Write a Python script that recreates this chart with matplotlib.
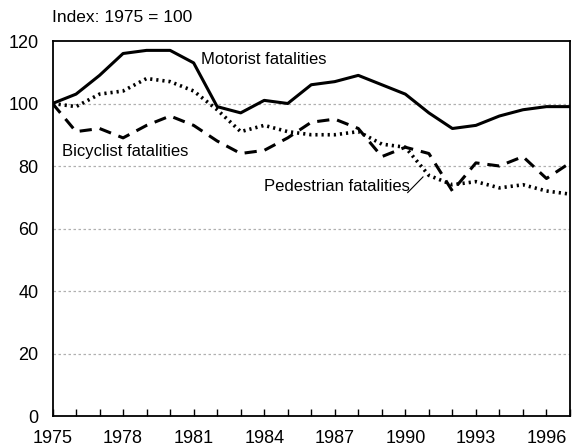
import numpy as np
import matplotlib.pyplot as plt
from matplotlib import font_manager

# font: condensed sans if available
names = {f.name for f in font_manager.fontManager.ttflist}
fam = 'Liberation Sans Narrow' if 'Liberation Sans Narrow' in names else 'Liberation Sans'
plt.rcParams['font.family'] = [fam, 'DejaVu Sans']

years = np.arange(1975, 1998)
motorist = [100, 103, 109, 116, 117, 117, 113, 99, 97, 101, 100, 106,
            107, 109, 106, 103, 97, 92, 93, 96, 98, 99, 99]
pedestrian = [100, 99, 103, 104, 108, 107, 104, 98, 91, 93, 91, 90,
              90, 91, 87, 86, 77, 74, 75, 73, 74, 72, 71]
bicyclist = [100, 91, 92, 89, 93, 96, 93, 88, 84, 85, 89, 94,
             95, 92, 83, 86, 84, 72, 81, 80, 83, 76, 81]

fig = plt.figure(figsize=(5.72, 4.48), dpi=100)
ax = fig.add_axes([52.5 / 572, 32 / 448, (570 - 52.5) / 572, (416 - 41) / 448])

ax.plot(years, motorist, color='black', lw=2.2, solid_joinstyle='round')
ax.plot(years, pedestrian, color='black', lw=2.6, linestyle=(0, (0.6, 1.1)),
        dash_capstyle='butt')
ax.plot(years, bicyclist, color='black', lw=2.2, linestyle=(0, (4, 2.6)))

ax.set_xlim(1975, 1997)
ax.set_ylim(0, 120)
for y in range(20, 120, 20):
    ax.axhline(y, color='#b0b0b0', lw=0.9, linestyle=(0, (2, 2)), zorder=0)

ax.set_xticks(range(1975, 1998, 3))
ax.set_xticks(range(1975, 1998), minor=True)
ax.set_yticks(range(0, 121, 20))
ax.tick_params(axis='x', which='both', direction='in', length=5, width=1,
               labelsize=13, pad=10)
ax.tick_params(axis='y', length=0, labelsize=13, pad=10)
for s in ax.spines.values():
    s.set_linewidth(1.3)

ax.text(1981.3, 114.2, 'Motorist fatalities', fontsize=12, va='center', ha='left')
ax.text(1975.4, 84.8, 'Bicyclist fatalities', fontsize=12, va='center', ha='left')
ax.text(1984.0, 73.6, 'Pedestrian fatalities', fontsize=12, va='center', ha='left')
ax.plot([1990.1, 1990.75], [71.5, 76.5], color='black', lw=0.8)

fig.text(52 / 572, 1 - 18 / 448, 'Index: 1975 = 100', fontsize=12.5,
         va='center', ha='left')

fig.savefig('out.png', dpi=100)
